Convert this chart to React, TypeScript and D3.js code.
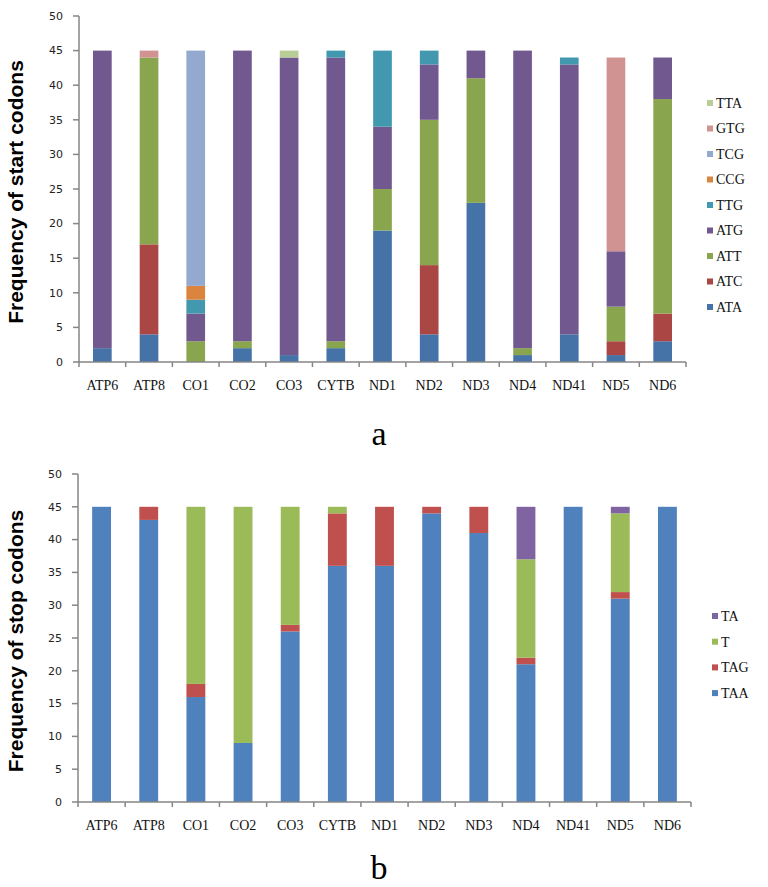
import * as d3 from 'd3';

const genes = ['ATP6', 'ATP8', 'CO1', 'CO2', 'CO3', 'CYTB', 'ND1', 'ND2', 'ND3', 'ND4', 'ND41', 'ND5', 'ND6'];
const yTicks = [0, 5, 10, 15, 20, 25, 30, 35, 40, 45, 50];

// start codons, stacked bottom -> top
const startKeys = ['ATA', 'ATC', 'ATT', 'ATG', 'TTG', 'CCG', 'TCG', 'GTG', 'TTA'];
const ATA = [2, 4, 0, 2, 1, 2, 19, 4, 23, 1, 4, 1, 3];
const ATC = [0, 13, 0, 0, 0, 0, 0, 10, 0, 0, 0, 2, 4];
const ATT = [0, 27, 3, 1, 0, 1, 6, 21, 18, 1, 0, 5, 31];
const ATG = [43, 0, 4, 42, 43, 41, 9, 8, 4, 43, 39, 8, 6];
const TTG = [0, 0, 2, 0, 0, 1, 11, 2, 0, 0, 1, 0, 0];
const CCG = [0, 0, 2, 0, 0, 0, 0, 0, 0, 0, 0, 0, 0];
const TCG = [0, 0, 34, 0, 0, 0, 0, 0, 0, 0, 0, 0, 0];
const GTG = [0, 1, 0, 0, 0, 0, 0, 0, 0, 0, 0, 28, 0];
const TTA = [0, 0, 0, 0, 1, 0, 0, 0, 0, 0, 0, 0, 0];
const startColors = ['#4572A7', '#AA4643', '#89A54E', '#71588F', '#4198AF', '#DB843D', '#93A9CF', '#D19392', '#B9CD96'];

// stop codons, stacked bottom -> top
const stopKeys = ['TAA', 'TAG', 'T', 'TA'];
const TAA = [45, 43, 16, 9, 26, 36, 36, 44, 41, 21, 45, 31, 45];
const TAG = [0, 2, 2, 0, 1, 8, 9, 1, 4, 1, 0, 1, 0];
const T = [0, 0, 27, 36, 18, 1, 0, 0, 0, 15, 0, 12, 0];
const TA = [0, 0, 0, 0, 0, 0, 0, 0, 0, 8, 0, 1, 0];
const stopColors = ['#4F81BD', '#C0504D', '#9BBB59', '#8064A2'];

type Row = { [k: string]: number | string };

const buildRows = (keys: string[], cols: number[][]): Row[] =>
  genes.map((g, i) => {
    const r: Row = { gene: g };
    keys.forEach((k, j) => (r[k] = cols[j][i]));
    return r;
  });

const startRows = buildRows(startKeys, [ATA, ATC, ATT, ATG, TTG, CCG, TCG, GTG, TTA]);
const stopRows = buildRows(stopKeys, [TAA, TAG, T, TA]);

interface ChartProps {
  rows: Row[];
  keys: string[];
  colors: string[];
  x0: number;
  x1: number;
  yTop: number;
  yBottom: number;
  title: string;
  legendX: number;
  legendY: number;
  legendStep: number;
  letter: string;
  letterY: number;
}

const axisColor = '#868686';
const serif = "'Liberation Serif', 'Times New Roman', serif";

const StackedChart = (p: ChartProps) => {
  const x = d3.scaleBand<string>().domain(genes).range([p.x0, p.x1]).paddingInner(0.6).paddingOuter(0.3);
  const y = d3.scaleLinear().domain([0, 50]).range([p.yBottom, p.yTop]);
  const color = d3.scaleOrdinal<string, string>().domain(p.keys).range(p.colors);
  const stacked = d3.stack<Row>().keys(p.keys).value((d, k) => d[k] as number)(p.rows);
  const step = x.step();
  const boundaries = d3.range(genes.length + 1).map((i) => p.x0 + i * step);
  const legendKeys = [...p.keys].reverse();

  return (
    <g>
      {stacked.map((s) => (
        <g key={s.key} fill={color(s.key)}>
          {s.map((d, i) =>
            d[1] - d[0] > 0 ? (
              <rect
                key={i}
                x={x(genes[i])}
                width={x.bandwidth()}
                y={y(d[1])}
                height={y(d[0]) - y(d[1])}
              />
            ) : null
          )}
        </g>
      ))}
      <line x1={p.x0} x2={p.x0} y1={y(50)} y2={y(0)} stroke={axisColor} strokeWidth={1.5} />
      <line x1={p.x0} x2={p.x1} y1={y(0)} y2={y(0)} stroke={axisColor} strokeWidth={1.5} />
      {yTicks.map((t) => (
        <g key={t}>
          <line x1={p.x0 - 6} x2={p.x0} y1={y(t)} y2={y(t)} stroke={axisColor} strokeWidth={1.5} />
          <text
            x={p.x0 - 16}
            y={y(t)}
            dy="0.35em"
            textAnchor="end"
            fontFamily="DejaVu Sans"
            fontSize={11}
            fill="#222"
          >
            {t}
          </text>
        </g>
      ))}
      {boundaries.map((bx, i) => (
        <line key={i} x1={bx} x2={bx} y1={y(0)} y2={y(0) + 5} stroke={axisColor} strokeWidth={1.5} />
      ))}
      {genes.map((g) => (
        <text
          key={g}
          x={(x(g) as number) + x.bandwidth() / 2}
          y={y(0) + 28}
          textAnchor="middle"
          fontFamily={serif}
          fontSize={14}
          fill="#111"
        >
          {g}
        </text>
      ))}
      <text
        transform={`translate(23,${(y(0) + y(50)) / 2 + 3}) rotate(-90)`}
        textAnchor="middle"
        fontFamily="Liberation Sans"
        fontWeight="bold"
        fontSize={21}
        fill="#000"
      >
        {p.title}
      </text>
      {legendKeys.map((k, i) => (
        <g key={k}>
          <rect x={p.legendX} y={p.legendY + i * p.legendStep - 3} width={6} height={6} fill={color(k)} />
          <text
            x={p.legendX + 9}
            y={p.legendY + i * p.legendStep}
            dy="0.35em"
            fontFamily={serif}
            fontSize={14}
            fill="#111"
          >
            {k}
          </text>
        </g>
      ))}
      <text x={379} y={p.letterY} textAnchor="middle" fontFamily={serif} fontSize={34} fill="#000">
        {p.letter}
      </text>
    </g>
  );
};

const App = () => (
  <svg
    width={768}
    height={887}
    style={{ position: 'absolute', left: 0, top: 0, background: '#fff' }}
  >
    <rect width={768} height={887} fill="#fff" />
    <StackedChart
      rows={startRows}
      keys={startKeys}
      colors={startColors}
      x0={79}
      x1={686}
      yTop={16}
      yBottom={362}
      title="Frequency of start codons"
      legendX={707}
      legendY={103}
      legendStep={25.5}
      letter="a"
      letterY={445}
    />
    <StackedChart
      rows={stopRows}
      keys={stopKeys}
      colors={stopColors}
      x0={78}
      x1={691}
      yTop={474}
      yBottom={802}
      title="Frequency of stop codons"
      legendX={712}
      legendY={616}
      legendStep={25.7}
      letter="b"
      letterY={879}
    />
  </svg>
);

export default App;
